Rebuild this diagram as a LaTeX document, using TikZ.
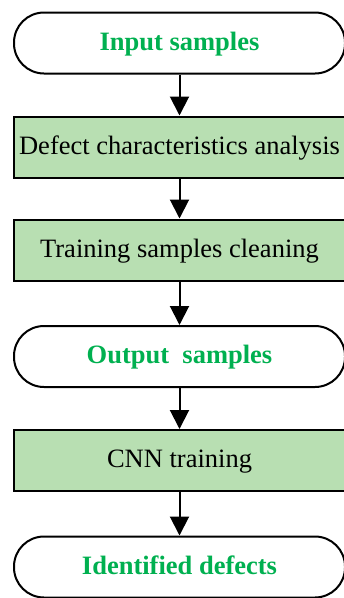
\documentclass[tikz,border=0pt]{standalone}
\usepackage{fontspec}
\setmainfont{Liberation Serif}
\usetikzlibrary{arrows.meta}
\definecolor{boxgreen}{RGB}{184,223,178}
\definecolor{textgreen}{RGB}{0,176,80}
\tikzset{
  base/.style={draw=black, line width=2pt, minimum width=331pt, minimum height=61pt, inner sep=0pt, text height=18pt, text depth=4pt, font=\fontsize{26.5}{30}\selectfont},
  term/.style={base, rounded corners=30pt, fill=white, text=textgreen, font=\fontsize{26.5}{30}\selectfont\bfseries},
  proc/.style={base, fill=boxgreen, text=black},
  arr/.style={draw=black, line width=2pt, -{Triangle[width=19pt,length=19pt]}}
}
\begin{document}
\begin{tikzpicture}[x=1pt,y=-1pt]
\useasboundingbox (0,0) rectangle (344,598);
\clip (0,0) rectangle (344,598);
\node[term] (t1) at (179.5,43) {Input samples};
\node[proc] (r1) at (179.5,147) {Defect characteristics analysis};
\node[proc] (r2) at (179.5,250) {Training samples cleaning};
\node[term] (t2) at (179.5,356.5) {Output\ \ samples};
\node[proc] (r3) at (179.5,460.5) {CNN training};
\node[term] (t3) at (179.5,567) {Identified defects};
\draw[arr] (t1) -- (r1);
\draw[arr] (r1) -- (r2);
\draw[arr] (r2) -- (t2);
\draw[arr] (t2) -- (r3);
\draw[arr] (r3) -- (t3);
\end{tikzpicture}
\end{document}
